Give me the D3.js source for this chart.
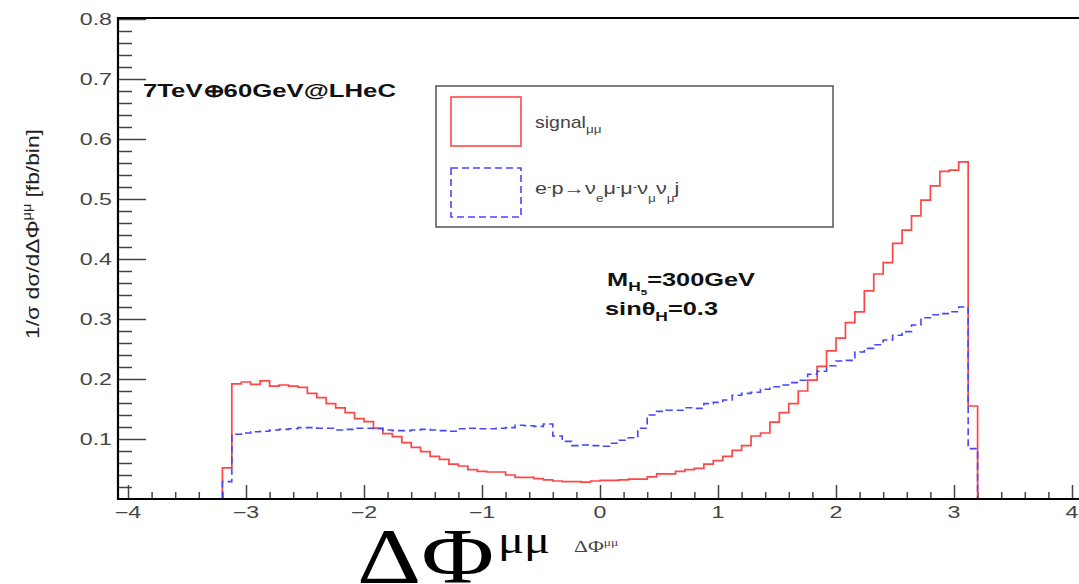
<!DOCTYPE html>
<html>
<head>
<meta charset="utf-8">
<script src="https://cdn.jsdelivr.net/npm/d3@7"></script>
<style>
  body { margin: 0; background: #fff; }
  svg { display: block; font-family: 'Liberation Sans', Arial, sans-serif; }
</style>
</head>
<body>
<svg id="viz"></svg>
<script>
// histogram bins, 0.08 wide; everything outside [-3.2, 3.2] is empty
const binLow = -3.2;
const binWidth = 0.08;

// signal_mumu, one value per bin from -3.20 up to 3.12
const signalMuMu = [
  0.052,
  0.192, 0.195, 0.191, 0.197, 0.188, 0.190, 0.188, 0.186, 0.176, 0.169,
  0.159, 0.152, 0.144, 0.134, 0.129, 0.118, 0.109, 0.104, 0.094,
  0.086, 0.079, 0.071, 0.066, 0.058, 0.055, 0.049, 0.046, 0.045, 0.045,
  0.040, 0.036, 0.036, 0.034, 0.032, 0.030, 0.029, 0.029, 0.028, 0.030,
  0.031, 0.031, 0.032, 0.033, 0.033, 0.037, 0.042, 0.042, 0.046, 0.049,
  0.051, 0.058, 0.064, 0.071, 0.081, 0.089, 0.105, 0.110, 0.128,
  0.144, 0.159, 0.180, 0.198, 0.221, 0.247, 0.268, 0.294, 0.312, 0.347,
  0.375, 0.394, 0.426, 0.448, 0.472, 0.498, 0.522, 0.546, 0.548, 0.562,
  0.155
];

// e-p -> nu_e mu mu nu nu j background
const background = [
  0.029,
  0.108, 0.110, 0.112, 0.113, 0.115, 0.116, 0.117, 0.119, 0.119, 0.118,
  0.118, 0.115, 0.116, 0.118, 0.118, 0.117, 0.115, 0.114, 0.114,
  0.115, 0.116, 0.115, 0.114, 0.113, 0.117, 0.118, 0.117, 0.117, 0.118,
  0.119, 0.123, 0.122, 0.121, 0.125, 0.105, 0.096, 0.089, 0.090, 0.089,
  0.088, 0.093, 0.098, 0.102, 0.118, 0.140, 0.146, 0.148, 0.148, 0.152,
  0.151, 0.159, 0.161, 0.165, 0.173, 0.176, 0.178, 0.183, 0.187,
  0.190, 0.194, 0.198, 0.208, 0.213, 0.222, 0.230, 0.231, 0.245, 0.251,
  0.257, 0.265, 0.273, 0.279, 0.290, 0.302, 0.307, 0.309, 0.312, 0.320,
  0.084
];

const xMajor = [-4, -3, -2, -1, 0, 1, 2, 3, 4];
const yMajor = [0.1, 0.2, 0.3, 0.4, 0.5, 0.6, 0.7, 0.8];

const width = 1079;
const height = 584;
const frame = { left: 118, right: 1092, top: 18, bottom: 499 };
const stretch = 1.45; // the original picture is stretched sideways

const svg = d3.select('#viz')
  .attr('width', width)
  .attr('height', height);

const x = d3.scaleLinear().domain([-4, 4]).range([128, 1072]);
const y = d3.scaleLinear().domain([0, 0.8]).range([499, 19]);

svg.append('clipPath').attr('id', 'plot-clip')
  .append('rect')
    .attr('x', frame.left).attr('y', frame.top)
    .attr('width', frame.right - frame.left)
    .attr('height', frame.bottom - frame.top);

// text placed at (px, py) and widened by sx
function wideText(parent, px, py, sx) {
  return parent.append('text')
    .attr('transform', `translate(${px},${py}) scale(${sx},1)`);
}

// ticks, pointing into the frame
const minorX = d3.range(-40, 41, 2).map(d => d / 10).filter(d => !xMajor.includes(d));
const minorY = d3.range(1, 40).map(d => d / 50).filter(d => Math.abs(d * 10 - Math.round(d * 10)) > 1e-6);

const tickColor = '#444';

const gx = svg.append('g').attr('transform', `translate(0,${frame.bottom})`);
gx.call(d3.axisBottom(x).tickValues(xMajor).tickSize(-14).tickFormat(''));
gx.append('g').call(d3.axisBottom(x).tickValues(minorX).tickSize(-7).tickFormat(''));

const gy = svg.append('g').attr('transform', `translate(${frame.left},0)`);
gy.call(d3.axisLeft(y).tickValues(yMajor).tickSize(-28).tickFormat(''));
gy.append('g').call(d3.axisLeft(y).tickValues(minorY).tickSize(-14).tickFormat(''));

svg.selectAll('.domain').remove();
svg.selectAll('.tick line').attr('stroke', tickColor).attr('stroke-width', 1.5);

const fmtX = d3.format('d');
const fmtY = d3.format('.1f');
xMajor.forEach(v => {
  wideText(svg, x(v), 518, stretch)
    .attr('text-anchor', 'middle')
    .attr('fill', '#444')
    .style('font-size', '16px')
    .text(fmtX(v));
});
yMajor.forEach(v => {
  wideText(svg, 112, y(v), stretch)
    .attr('text-anchor', 'end')
    .attr('dy', '0.36em')
    .attr('fill', '#444')
    .style('font-size', '16px')
    .text(fmtY(v));
});

// histogram outlines as step lines
function histPoints(values) {
  const pts = [[x.invert(frame.left - 5), 0]];
  values.forEach((v, i) => pts.push([binLow + i * binWidth, v]));
  pts.push([binLow + values.length * binWidth, 0]);
  pts.push([x.invert(frame.right + 5), 0]);
  return pts;
}

const step = d3.line()
  .x(d => x(d[0]))
  .y(d => y(d[1]))
  .curve(d3.curveStepAfter);

const plot = svg.append('g').attr('clip-path', 'url(#plot-clip)');

plot.append('path')
  .attr('d', step(histPoints(signalMuMu)))
  .attr('fill', 'none')
  .attr('stroke', '#ff4646')
  .attr('stroke-width', 1.7);

plot.append('path')
  .attr('d', step(histPoints(background)))
  .attr('fill', 'none')
  .attr('stroke', '#4646ff')
  .attr('stroke-width', 1.6)
  .attr('stroke-dasharray', '7,4');

// frame
svg.append('path')
  .attr('d', `M${frame.right},${frame.top}H${frame.left}V${frame.bottom}H${frame.right}`)
  .attr('fill', 'none')
  .attr('stroke', '#000')
  .attr('stroke-width', 2.2);

// labels inside the plot
wideText(svg, 143, 97, 1.47)
  .style('font-size', '17.5px').style('font-weight', 'bold')
  .attr('fill', '#111')
  .text('7TeV⊕60GeV@LHeC');

const mass = wideText(svg, 607, 286, stretch)
  .style('font-size', '17.5px').style('font-weight', 'bold')
  .attr('fill', '#111');
mass.append('tspan').text('M');
mass.append('tspan').attr('dy', 5).style('font-size', '12px').text('H');
mass.append('tspan').attr('dy', 4).style('font-size', '8px').text('5');
mass.append('tspan').attr('dy', -9).text('=300GeV');

const mix = wideText(svg, 605, 315, stretch)
  .style('font-size', '17.5px').style('font-weight', 'bold')
  .attr('fill', '#111');
mix.append('tspan').text('sinθ');
mix.append('tspan').attr('dy', 6).style('font-size', '12px').text('H');
mix.append('tspan').attr('dy', -6).text('=0.3');

// legend
const legend = svg.append('g');
legend.append('rect')
  .attr('x', 436).attr('y', 86).attr('width', 397).attr('height', 141)
  .attr('fill', '#fff').attr('stroke', '#555').attr('stroke-width', 1.5);
legend.append('rect')
  .attr('x', 451).attr('y', 97).attr('width', 70).attr('height', 49)
  .attr('fill', 'none').attr('stroke', '#ff4646').attr('stroke-width', 1.6);
legend.append('rect')
  .attr('x', 451).attr('y', 168).attr('width', 70).attr('height', 49)
  .attr('fill', 'none').attr('stroke', '#4646ff').attr('stroke-width', 1.6)
  .attr('stroke-dasharray', '7,4');

const sig = wideText(legend, 535, 128, 1.22)
  .attr('fill', '#444').style('font-size', '16px');
sig.append('tspan').text('signal');
sig.append('tspan').attr('dy', 5).style('font-size', '11px').text('μμ');

const bkg = wideText(legend, 535, 194, 1.35)
  .attr('fill', '#444').style('font-size', '16px');
[
  ['e', 0], ['-', -1], ['p→ν', 1], ['e', 2], ['μ', -2], ['-', -1], ['μ', 1], ['-', -1],
  ['ν', 1], ['μ', 2], ['ν', -2], ['μ', 2], ['j', -2]
].forEach(([t, shift]) => {
  const sp = bkg.append('tspan').text(t);
  if (shift !== 0) sp.attr('dy', shift * 4);
  if (t === '-' || (t === 'e' && shift === 2) || (t === 'μ' && shift === 2)) sp.style('font-size', '10px');
});

// axis titles
const yTitle = svg.append('text')
  .attr('transform', 'translate(39,234) rotate(-90) scale(1.2,1)')
  .attr('text-anchor', 'middle')
  .attr('fill', '#222')
  .style('font-size', '19px');
yTitle.append('tspan').text('1/σ dσ/dΔΦ');
yTitle.append('tspan').attr('dy', -8).style('font-size', '12px').text('μμ');
yTitle.append('tspan').attr('dy', 8).text(' [fb/bin]');

const xTitle = wideText(svg, 357, 582, 1.28)
  .attr('fill', '#000')
  .style('font-family', "'Liberation Serif', 'Times New Roman', serif");
xTitle.append('tspan').style('font-size', '78px').text('ΔΦ');
xTitle.append('tspan').attr('dx', 3).attr('dy', -29).style('font-size', '38px').text('μμ');

const xSmall = wideText(svg, 574, 552, 1.35)
  .attr('fill', '#444')
  .style('font-family', "'Liberation Serif', 'Times New Roman', serif");
xSmall.append('tspan').style('font-size', '16px').text('ΔΦ');
xSmall.append('tspan').attr('dy', -6).style('font-size', '10px').text('μμ');
</script>
</body>
</html>
